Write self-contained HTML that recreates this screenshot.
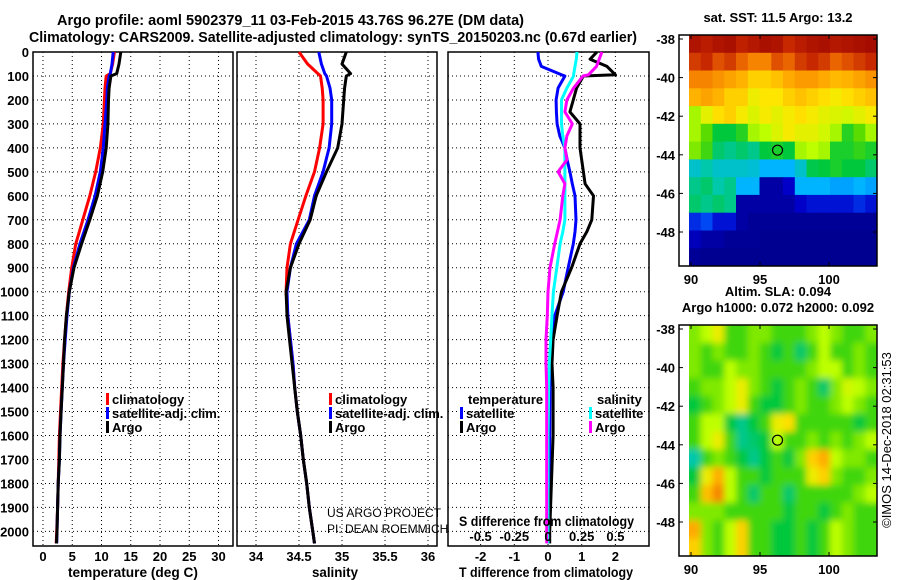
<!DOCTYPE html>
<html><head><meta charset="utf-8"><style>
html,body{margin:0;padding:0;background:#fff;}
svg{display:block;font-family:"Liberation Sans",Arial,sans-serif;}
.t{font-weight:bold;font-size:13px;fill:#000;}
</style></head><body>
<svg id="chart" width="900" height="580" viewBox="0 0 900 580">
<defs><filter id="blur" filterUnits="userSpaceOnUse" x="680" y="320" width="200" height="240"><feGaussianBlur stdDeviation="3.5"/></filter>
<clipPath id="c1"><rect x="689" y="35" width="188" height="231"/></clipPath>
<clipPath id="c2"><rect x="689" y="325" width="188" height="231"/></clipPath></defs>
<text class="t" x="57" y="25" textLength="467" lengthAdjust="spacingAndGlyphs" style="font-size:14.5px">Argo profile: aoml 5902379_11 03-Feb-2015 43.76S 96.27E (DM data)</text>
<text class="t" x="29" y="42" textLength="608" lengthAdjust="spacingAndGlyphs" style="font-size:14.5px">Climatology: CARS2009. Satellite-adjusted climatology: synTS_20150203.nc (0.67d earlier)</text>
<g id="g"></g>
</svg>
<script>
const depths=[0,50,90,100,150,200,300,400,500,600,700,800,900,1000,1100,1200,1300,1400,1500,1600,1700,1800,1900,2000,2050];
const tempClim=[12.2,11.9,11.5,10.8,10.6,10.5,10.3,9.8,9.0,8.0,6.8,5.6,4.9,4.4,4.0,3.7,3.4,3.2,3.0,2.8,2.7,2.6,2.5,2.35,2.25];
const tempSat=[12.0,11.8,11.5,11.3,11.0,10.9,10.6,10.3,9.8,8.9,7.7,6.3,5.2,4.5,4.1,3.8,3.5,3.3,3.1,2.9,2.8,2.6,2.5,2.4,2.35];
const tempArgo=[13.3,13.0,12.6,11.6,11.3,11.2,11.1,10.8,10.2,9.3,8.0,6.6,5.3,4.5,4.0,3.7,3.5,3.3,3.1,2.9,2.8,2.6,2.5,2.4,2.3];
const salClim=[34.5,34.6,34.72,34.75,34.77,34.78,34.78,34.74,34.68,34.58,34.49,34.4,34.36,34.35,34.37,34.4,34.43,34.45,34.48,34.52,34.55,34.59,34.62,34.66,34.68];
const salSat=[34.73,34.76,34.8,34.82,34.86,34.88,34.88,34.85,34.78,34.68,34.62,34.47,34.4,34.36,34.37,34.4,34.43,34.45,34.48,34.52,34.55,34.59,34.62,34.66,34.68];
const salArgo=[35.05,35.0,35.1,35.05,35.03,35.02,35.0,34.95,34.82,34.7,34.63,34.5,34.4,34.35,34.36,34.39,34.42,34.45,34.48,34.52,34.55,34.59,34.62,34.66,34.68];
const dDepths=[0,30,60,95,100,150,200,250,300,350,400,450,500,550,600,700,750,800,900,1000,1100,1200,1300,1400,1600,1800,2000,2050];
const dTsat=[-0.3,-0.28,-0.2,0.4,0.5,0.3,0.24,0.25,0.27,0.35,0.5,0.57,0.65,0.72,0.8,0.83,0.8,0.75,0.6,0.45,0.2,0.12,0.07,0.06,0.05,0.05,0.04,0.04];
const dTargo=[1.45,1.25,1.75,2.0,1.05,0.85,0.75,0.65,0.95,0.95,0.95,1.0,1.05,1.1,1.35,1.3,1.15,0.95,0.7,0.4,0.27,0.15,0.12,0.15,0.15,0.1,0.05,0.05];
const dSsat=[0.215,0.21,0.2,0.19,0.19,0.14,0.1,0.1,0.1,0.11,0.125,0.125,0.125,0.125,0.125,0.125,0.11,0.09,0.065,0.04,0.03,0.02,0.01,0.005,0.0,0.0,0.0,0.0];
const dSargo=[0.4,0.38,0.36,0.3,0.26,0.19,0.14,0.125,0.18,0.14,0.125,0.14,0.075,0.125,0.11,0.09,0.07,0.05,0.015,0.0,-0.005,-0.015,-0.015,-0.01,-0.01,-0.01,-0.01,-0.01];
const depthTicks=[0,100,200,300,400,500,600,700,800,900,1000,1100,1200,1300,1400,1500,1600,1700,1800,1900,2000];
const tempTicks=[0,5,10,15,20,25,30];
const salTicks=[34,34.5,35,35.5,36];
const tdTicks=[-2,-1,0,1,2];
const sdTicks=[-0.5,-0.25,0,0.25,0.5];
const sstGrid=[
[.95,.93,.95,.96,.92,.94,.96,.95,.9,.93,.95,.96,.94,.95,.96,.97],
[.88,.9,.86,.88,.84,.8,.8,.86,.84,.88,.9,.88,.84,.86,.88,.9],
[.8,.8,.78,.76,.74,.7,.7,.72,.75,.77,.77,.75,.73,.74,.76,.78],
[.74,.76,.74,.7,.7,.65,.67,.67,.7,.72,.7,.68,.66,.68,.7,.72],
[.58,.64,.68,.7,.66,.63,.66,.64,.66,.68,.66,.64,.63,.62,.64,.66],
[.58,.52,.45,.45,.48,.58,.6,.63,.66,.64,.64,.62,.58,.48,.52,.58],
[.55,.5,.42,.4,.42,.4,.45,.47,.45,.58,.6,.58,.47,.47,.49,.47],
[.35,.38,.35,.35,.35,.34,.3,.3,.3,.35,.44,.45,.47,.45,.45,.42],
[.4,.42,.38,.4,.3,.3,.05,.05,.1,.3,.3,.3,.28,.28,.3,.28],
[.42,.4,.42,.4,.05,.05,.05,.05,.05,.1,.12,.12,.12,.12,.15,.12],
[.15,.18,.12,.12,.05,.03,.03,.03,.03,.03,.03,.03,.03,.03,.03,.03],
[.08,.05,.05,.03,.03,.03,.02,.02,.02,.02,.02,.02,.02,.02,.02,.02],
[.03,.02,.02,.02,.02,.02,.02,.02,.02,.02,.02,.02,.02,.02,.02,.02]];
const slaGrid=[
[.55,.6,.65,.5,.5,.55,.55,.5,.5,.5,.55,.6,.55,.5,.5,.55],
[.55,.5,.55,.5,.5,.55,.5,.45,.5,.42,.5,.6,.5,.5,.55,.5],
[.55,.5,.5,.6,.55,.55,.5,.5,.5,.5,.55,.6,.6,.5,.55,.5],
[.5,.55,.55,.6,.65,.55,.5,.45,.5,.55,.5,.42,.55,.62,.6,.55],
[.45,.5,.55,.6,.65,.5,.45,.45,.5,.55,.5,.5,.55,.6,.55,.5],
[.5,.6,.6,.45,.4,.45,.5,.65,.68,.5,.5,.5,.5,.5,.45,.5],
[.5,.6,.65,.5,.4,.42,.45,.6,.5,.5,.55,.5,.55,.5,.55,.6],
[.38,.5,.55,.5,.45,.4,.45,.5,.45,.55,.7,.75,.6,.55,.55,.5],
[.45,.65,.75,.6,.5,.5,.45,.5,.5,.5,.65,.7,.55,.5,.5,.55],
[.5,.72,.8,.6,.5,.42,.5,.5,.42,.5,.5,.5,.5,.5,.55,.6],
[.55,.55,.55,.5,.5,.5,.5,.5,.45,.5,.5,.45,.5,.55,.5,.5],
[.75,.55,.5,.6,.7,.5,.5,.45,.45,.5,.45,.5,.6,.55,.5,.5],
[.7,.55,.5,.6,.7,.5,.5,.45,.45,.5,.45,.5,.6,.55,.5,.5]];
const latTicks=[-38,-40,-42,-44,-46,-48];
const lonTicks=[90,95,100];
const floatLon=96.27, floatLat=-43.76;

const NS='http://www.w3.org/2000/svg';
const G=document.getElementById('g');
function mk(tag,attrs,parent){const e=document.createElementNS(NS,tag);for(const k in attrs)e.setAttribute(k,attrs[k]);(parent||G).appendChild(e);return e;}
function txt(x,y,s,anchor,extra){const e=mk('text',Object.assign({x:x,y:y,'class':'t','text-anchor':anchor||'start'},extra||{}));e.textContent=s;return e;}
const yD=d=>52+d*0.2397;
const PB=546;
const xT=t=>43+t*5.85;
const xS=s=>256+(s-34)*86;
const xTd=d=>548+d*33.7;
const xSd=d=>548+d*134.8;

function panel(x0,x1,xticks,xf,name){
  const r=mk('rect',{x:x0,y:52,width:x1-x0,height:PB-52,fill:'#fff',stroke:'#000','stroke-width':1.5});
  
  
  depthTicks.forEach(d=>{mk('line',{x1:x0,x2:x1,y1:yD(d),y2:yD(d),stroke:'#000','stroke-width':1,'stroke-dasharray':'1,3'});});
  xticks.forEach(v=>{mk('line',{x1:xf(v),x2:xf(v),y1:52,y2:PB,stroke:'#000','stroke-width':1,'stroke-dasharray':'1,3'});});
}
function line(xs,ds,xf,color,name){
  const p=ds.map((d,i)=>(i?'L':'M')+xf(xs[i]).toFixed(1)+','+yD(d).toFixed(1)).join('');
  const e=mk('path',{d:p,fill:'none',stroke:color,'stroke-width':3,'stroke-linejoin':'round'});
  
  
}
function legendEntry(x,y,color,label,name){
  mk('rect',{x:x,y:y-11,width:3,height:12,fill:color});
  const t=txt(x+6,y,label);
  
  
}
function fitText(x,y,s,len,size){return txt(x,y,s,'start',{textLength:len,lengthAdjust:'spacingAndGlyphs',style:'font-size:'+size+'px'});}
panel(33,233,tempTicks,xT,'temperature-panel');
line(tempClim,depths,xT,'#f00','temperature-climatology-line');
line(tempSat,depths,xT,'#00f','temperature-satellite-line');
line(tempArgo,depths,xT,'#000','temperature-argo-line');
depthTicks.forEach(d=>{const t=txt(29,yD(d)+5,String(d),'end');});
tempTicks.forEach(v=>{const t=txt(xT(v),561,String(v),'middle');});
legendEntry(106,404,'#f00','climatology','temp-legend-climatology');
legendEntry(106,418,'#00f','satellite-adj. clim.','temp-legend-satellite');
legendEntry(106,432,'#000','Argo','temp-legend-argo');
let xl=fitText(68,577,'temperature (deg C)',130,13.5);
panel(237,437,salTicks,xS,'salinity-panel');
line(salClim,depths,xS,'#f00','salinity-climatology-line');
line(salSat,depths,xS,'#00f','salinity-satellite-line');
line(salArgo,depths,xS,'#000','salinity-argo-line');
salTicks.forEach(v=>{const t=txt(xS(v),561,String(v),'middle');});
legendEntry(329,404,'#f00','climatology','sal-legend-climatology');
legendEntry(329,418,'#00f','satellite-adj. clim.','sal-legend-satellite');
legendEntry(329,432,'#000','Argo','sal-legend-argo');
xl=fitText(312,577,'salinity',46,13.5);
let c=txt(327,517,'US ARGO PROJECT','start',{style:'font-weight:normal;font-size:12px'});
c=txt(327,533,'PI: DEAN ROEMMICH','start',{style:'font-weight:normal;font-size:12px'});
panel(448,649,tdTicks,xTd,'difference-panel');
line(dTsat,dDepths,xTd,'#00f','t-diff-satellite-line');
line(dTargo,dDepths,xTd,'#000','t-diff-argo-line');
line(dSsat,dDepths,xSd,'#0ff','s-diff-satellite-line');
line(dSargo,dDepths,xSd,'#f0f','s-diff-argo-line');
c=txt(468,404,'temperature');
legendEntry(460,418,'#00f','satellite','diff-legend-t-satellite');
legendEntry(460,432,'#000','Argo','diff-legend-t-argo');
c=txt(597,404,'salinity');
legendEntry(589,418,'#0ff','satellite','diff-legend-s-satellite');
legendEntry(589,432,'#f0f','Argo','diff-legend-s-argo');
c=fitText(459,526,'S difference from climatology',175,13.5);
sdTicks.forEach(v=>{const t=txt(xSd(v),541,String(v),'middle');});
tdTicks.forEach(v=>{const t=txt(xTd(v),561,String(v),'middle');});
xl=fitText(459,577,'T difference from climatology',174,13.5);

const cmapStops=[[0,0,0,130],[0.1,0,0,200],[0.2,0,90,255],[0.3,0,180,255],[0.38,0,200,170],[0.45,0,200,60],[0.52,90,220,0],[0.6,190,255,0],[0.67,255,230,0],[0.75,255,170,0],[0.83,240,110,0],[0.9,200,40,0],[1,150,0,0]];
function cmap(v){v=Math.max(0,Math.min(1,v));for(let i=1;i<cmapStops.length;i++){const a=cmapStops[i-1],b=cmapStops[i];if(v<=b[0]){const f=(v-a[0])/(b[0]-a[0]);return 'rgb('+[1,2,3].map(k=>Math.round(a[k]+(b[k]-a[k])*f)).join(',')+')';}}return 'rgb(150,0,0)';}
const lonX=l=>691+(l-90)*13.8;
function map(grid,top,name,title1,title2,blur,clip){
  const latY=l=>top+4+(-38-l)*19.3;
  const g=mk('g',{'clip-path':'url(#'+clip+')'});
  const g2=mk('g',blur?{filter:'url(#blur)'}:{},g);
  const nr=grid.length,nc=grid[0].length;
  const cw=188/nc,ch=231/nr;
  const pad=blur?8:0;
  grid.forEach((row,i)=>row.forEach((v,j)=>{
    const x=689+j*cw-(j===0?pad:0), y=top+i*ch-(i===0?pad:0);
    const w=cw+0.6+(j===0?pad:0)+(j===nc-1?pad:0), h=ch+0.6+(i===0?pad:0)+(i===nr-1?pad:0);
    const r=mk('rect',{x:x.toFixed(1),y:y.toFixed(1),width:w.toFixed(1),height:h.toFixed(1),fill:cmap(v)},g2);
    
    
  }));
  const fr=mk('rect',{x:679,y:top,width:198,height:231,fill:'none',stroke:'#000','stroke-width':1.5});
  
  
  latTicks.forEach(l=>{const t=txt(675,latY(l)+5,String(l),'end');
    mk('line',{x1:679,x2:683,y1:latY(l),y2:latY(l),stroke:'#000'});mk('line',{x1:873,x2:877,y1:latY(l),y2:latY(l),stroke:'#000'});});
  lonTicks.forEach(l=>{const t=txt(lonX(l),top+249,String(l),'middle');
    mk('line',{x1:lonX(l),x2:lonX(l),y1:top,y2:top+4,stroke:'#000'});mk('line',{x1:lonX(l),x2:lonX(l),y1:top+227,y2:top+231,stroke:'#000'});});
  const m=mk('circle',{cx:lonX(floatLon),cy:latY(floatLat),r:5,fill:'none',stroke:'#000','stroke-width':1.2});
  
  
  let t=txt(778,top-13-(title2?16:0),title1,'middle');
  if(title2){t=txt(778,top-13,title2,'middle');}
}
map(sstGrid,35,'sst-map','sat. SST: 11.5 Argo: 13.2',null,false,'c1');
map(slaGrid,325,'sla-map','Altim. SLA: 0.094','Argo h1000: 0.072 h2000: 0.092',true,'c2');
c=txt(0,0,'©IMOS 14-Dec-2018 02:31:53','middle',{style:'font-weight:normal;font-size:13px',transform:'translate(891,440) rotate(-90)'});

</script>
</body></html>
